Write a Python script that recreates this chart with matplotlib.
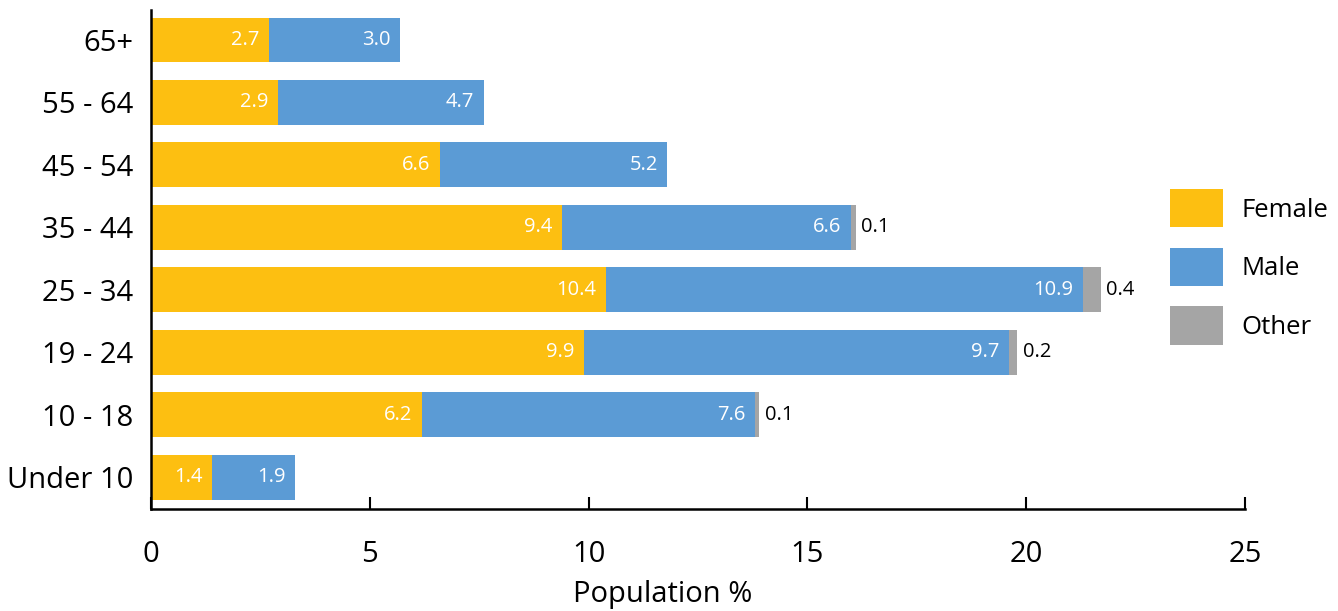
import matplotlib
matplotlib.use("Agg")
import matplotlib.pyplot as plt
from matplotlib.patches import Patch
import numpy as np

categories = ["Under 10", "10 - 18", "19 - 24", "25 - 34", "35 - 44", "45 - 54", "55 - 64", "65+"]
female = [1.4, 6.2, 9.9, 10.4, 9.4, 6.6, 2.9, 2.7]
male = [1.9, 7.6, 9.7, 10.9, 6.6, 5.2, 4.7, 3.0]
other = [0.0, 0.1, 0.2, 0.4, 0.1, 0.0, 0.0, 0.0]
series_names = ["Female", "Male", "Other"]
colors = ["#FDBF11", "#5B9BD5", "#A5A5A5"]
xticks = [0, 5, 10, 15, 20, 25]

plt.rcParams['font.family'] = ['Open Sans', 'DejaVu Sans']

fig = plt.figure(figsize=(13.38, 6.11), dpi=100)
ax = fig.add_axes([0.1129, 0.1669, 0.8176, 0.8167])

y = np.arange(len(categories))
h = 0.72
f = np.array(female); m = np.array(male); o = np.array(other)
ax.barh(y, f, height=h, color=colors[0])
ax.barh(y, m, height=h, left=f, color=colors[1])
ax.barh(y, o, height=h, left=f + m, color=colors[2])

lab_fs = 14.5
for i in range(len(categories)):
    ax.annotate(f"{f[i]:.1f}", (f[i], y[i]), xytext=(-7, 0), textcoords="offset points",
                ha="right", va="center", color="white", fontsize=lab_fs)
    ax.annotate(f"{m[i]:.1f}", (f[i] + m[i], y[i]), xytext=(-7, 0), textcoords="offset points",
                ha="right", va="center", color="white", fontsize=lab_fs)
    if o[i] > 0:
        ax.annotate(f"{o[i]:.1f}", (f[i] + m[i] + o[i], y[i]), xytext=(4, 0), textcoords="offset points",
                    ha="left", va="center", color="black", fontsize=lab_fs)

ax.set_xlim(0, 25)
ax.set_ylim(-0.51, 7.48)
ax.set_yticks(y)
ax.set_yticklabels(categories, fontsize=21)
ax.set_xticks(xticks)
ax.set_xticklabels([str(t) for t in xticks], fontsize=21)
ax.tick_params(axis='y', length=0, pad=13)
ax.tick_params(axis='x', direction='in', length=9, width=1.5, pad=22)
for s in ["top", "right"]:
    ax.spines[s].set_visible(False)
for s in ["left", "bottom"]:
    ax.spines[s].set_linewidth(1.8)
ax.set_xlabel("Population %", fontsize=21)
ax.xaxis.set_label_coords(0.468, -0.143)

handles = [Patch(facecolor=c, label=n) for c, n in zip(colors, series_names)]
fig.legend(handles=handles, loc="upper left", bbox_to_anchor=(0.8573, 0.728), frameon=False,
           fontsize=18.5, handlelength=2.06, handleheight=1.9, labelspacing=0.8, handletextpad=0.7)

fig.savefig("out.png", dpi=100)
